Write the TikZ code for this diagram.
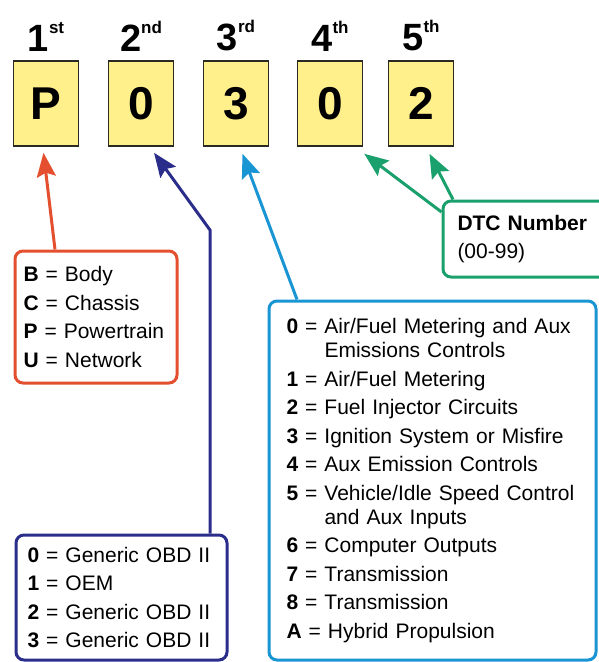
\documentclass[tikz,border=0pt]{standalone}
\usepackage{fontspec}
\setmainfont{Liberation Sans}
\usepackage{tikz}
\usetikzlibrary{calc,positioning,arrows.meta}
\definecolor{digitfill}{HTML}{FFF08C}
\definecolor{digitedge}{HTML}{2A2A22}
\definecolor{keyred}{HTML}{E4502F}
\definecolor{keynavy}{HTML}{2B2D8A}
\definecolor{keyblue}{HTML}{1A95D3}
\definecolor{keygreen}{HTML}{1AA06C}

\begin{document}
\begin{tikzpicture}[x=1pt,y=-1pt,
    digitbox/.style={draw=digitedge, fill=digitfill, line width=1.6pt,
      minimum width=65pt, minimum height=85pt, inner sep=0pt,
      font=\fontsize{46}{46}\selectfont\bfseries},
    poslabel/.style={inner sep=0pt, font=\fontsize{38}{38}\selectfont\bfseries},
    keybox/.style={draw=#1, line width=3pt, fill=white, rounded corners=8pt,
      anchor=north west, align=left, inner ysep=0pt,
      font=\fontsize{21}{28.5}\selectfont},
    pointer/.style={draw=#1, line width=3pt,
      -{Stealth[length=24pt, width=19pt, inset=4pt]}}]
  \useasboundingbox (0,0) rectangle (598,662);

  % the five characters of the code, with their position above
  \foreach \n/\ch/\x/\ord in {1/P/46/st, 2/0/141/nd, 3/3/236/rd, 4/0/330/th, 5/2/421/th}{
    \node[digitbox] (d\n) at (\x,103.5) {\ch};
    \node[poslabel, above=9pt of d\n] (o\n)
      {\n\raisebox{18pt}{\fontsize{17}{17}\selectfont\bfseries\ord}};
  }

  % keys
  \node[keybox=keyred, text width=145pt, inner xsep=8.5pt, minimum height=132pt]
    (keyB) at (13.5,249.5) {%
    \textbf{B} = Body\\
    \textbf{C} = Chassis\\
    \textbf{P} = Powertrain\\
    \textbf{U} = Network};

  \node[keybox=keynavy, text width=188pt, inner xsep=11.5pt, minimum height=125pt]
    (keyG) at (14.5,533.5) {%
    \textbf{0} = Generic OBD II\\
    \textbf{1} = OEM\\
    \textbf{2} = Generic OBD II\\
    \textbf{3} = Generic OBD II};

  \node[keybox=keyblue, text width=292pt, inner xsep=17.5pt, minimum height=359pt]
    (keyS) at (267.5,299.5) {%
    \textbf{0} = Air/Fuel Metering and Aux\\[-4.5pt]
    \hspace*{38pt}Emissions Controls\\
    \textbf{1} = Air/Fuel Metering\\
    \textbf{2} = Fuel Injector Circuits\\
    \textbf{3} = Ignition System or Misfire\\
    \textbf{4} = Aux Emission Controls\\
    \textbf{5} = Vehicle/Idle Speed Control\\[-4.5pt]
    \hspace*{38pt}and Aux Inputs\\
    \textbf{6} = Computer Outputs\\
    \textbf{7} = Transmission\\
    \textbf{8} = Transmission\\
    \textbf{A} = Hybrid Propulsion};

  \node[keybox=keygreen, text width=150pt, inner xsep=14.5pt, minimum height=76pt]
    (keyN) at (441.5,199.5) {%
    \textbf{DTC Number}\\
    (00-99)};

  % pointers from each key up to its character
  \coordinate (bend) at ([xshift=195.5pt]keyG.north west |- 0,230);
  \draw[pointer=keyred] ([xshift=41.5pt]keyB.north west)
    -- ([xshift=-2.5pt,yshift=-6pt]d1.south);
  \draw[pointer=keynavy] ([xshift=195.5pt]keyG.north west) -- (bend)
    -- ([xshift=13pt,yshift=-6pt]d2.south);
  \draw[pointer=keyblue] ([xshift=29.5pt]keyS.north west)
    -- ([xshift=6.5pt,yshift=-7pt]d3.south);
  \draw[pointer=keygreen] ([yshift=-12.5pt]keyN.north west)
    -- ([xshift=1pt,yshift=-7pt]d4.south east);
  \draw[pointer=keygreen] ([xshift=11.5pt]keyN.north west)
    -- ([xshift=8.5pt,yshift=-7pt]d5.south);
\end{tikzpicture}
\end{document}
